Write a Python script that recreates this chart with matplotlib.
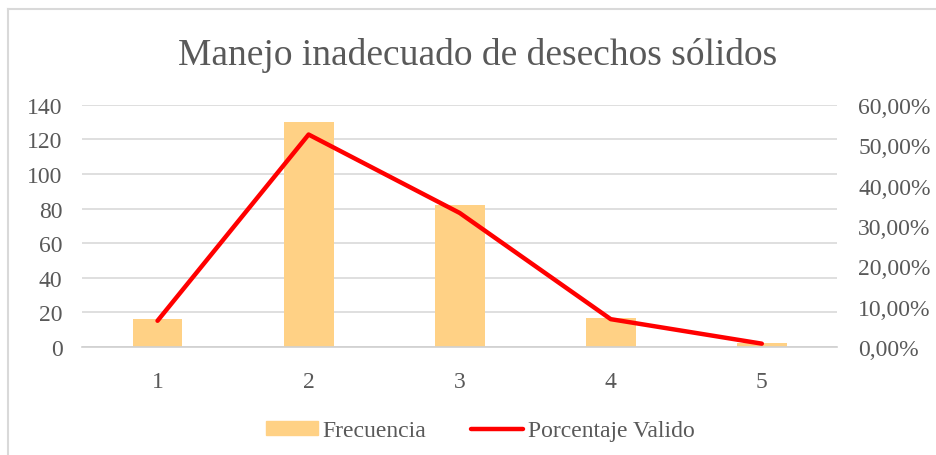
import matplotlib.pyplot as plt
from matplotlib.lines import Line2D
from matplotlib.ticker import FuncFormatter

# data
categorias = ['1', '2', '3', '4', '5']
frecuencia = [16, 130, 82, 17, 2]
porcentaje = [6.48, 52.63, 33.20, 6.88, 0.81]

plt.rcParams['font.family'] = ['Liberation Serif', 'DejaVu Serif']
gris = '#595959'
fs = 17

fig = plt.figure(figsize=(9.36, 4.56), dpi=100)
ax1 = fig.add_axes([0.0876, 0.237, 0.807, 0.531])

x = list(range(len(categorias)))
ax1.bar(x, frecuencia, width=0.33, color='#FFD185', zorder=2, label='Frecuencia')
ax1.set_ylim(0, 140)
ax1.set_xlim(-0.5, len(categorias) - 0.5)
ax1.set_yticks(range(0, 141, 20))
ax1.set_xticks(x)
ax1.set_xticklabels(categorias)
ax1.yaxis.grid(True, color='#d9d9d9', linewidth=1.2, zorder=0)
ax1.set_axisbelow(True)
for s in ['top', 'right', 'left']:
    ax1.spines[s].set_visible(False)
ax1.spines['bottom'].set_color('#d0d0d0')
ax1.spines['bottom'].set_linewidth(1.2)
ax1.tick_params(axis='both', length=0, labelsize=fs, labelcolor=gris)
ax1.tick_params(axis='x', pad=17)
ax1.tick_params(axis='y', pad=14)

ax2 = ax1.twinx()
ax2.plot(x, porcentaje, color='#FF0000', linewidth=3.2, solid_capstyle='round',
         solid_joinstyle='round', zorder=3, label='Porcentaje Valido')
ax2.set_ylim(0, 60)
ax2.set_yticks(range(0, 61, 10))
ax2.yaxis.set_major_formatter(FuncFormatter(lambda v, p: f'{v:.2f}%'.replace('.', ',')))
for s in ['top', 'right', 'left', 'bottom']:
    ax2.spines[s].set_visible(False)
ax2.tick_params(axis='y', length=0, labelsize=fs, labelcolor=gris, pad=15)

fig.text(0.51, 0.878, 'Manejo inadecuado de desechos sólidos', ha='center', va='center',
         fontsize=27, color=gris)

handles = [plt.Rectangle((0, 0), 1, 1, color='#FFD185'),
           Line2D([0], [0], color='#FF0000', linewidth=3.2, solid_capstyle='round')]
fig.legend(handles, ['Frecuencia', 'Porcentaje Valido'], loc='center', ncol=2,
           bbox_to_anchor=(0.513, 0.053), frameon=False, fontsize=fs, labelcolor=gris,
           handlelength=2.2, handleheight=0.55, columnspacing=1.9, handletextpad=0.2)

# chart border (left and top edges visible)
fig.add_artist(Line2D([0.0085, 0.0085], [0, 0.978], color='#d9d9d9', linewidth=1.5))
fig.add_artist(Line2D([0.0085, 1], [0.978, 0.978], color='#d9d9d9', linewidth=1.5))

fig.savefig('out.png', dpi=100)
